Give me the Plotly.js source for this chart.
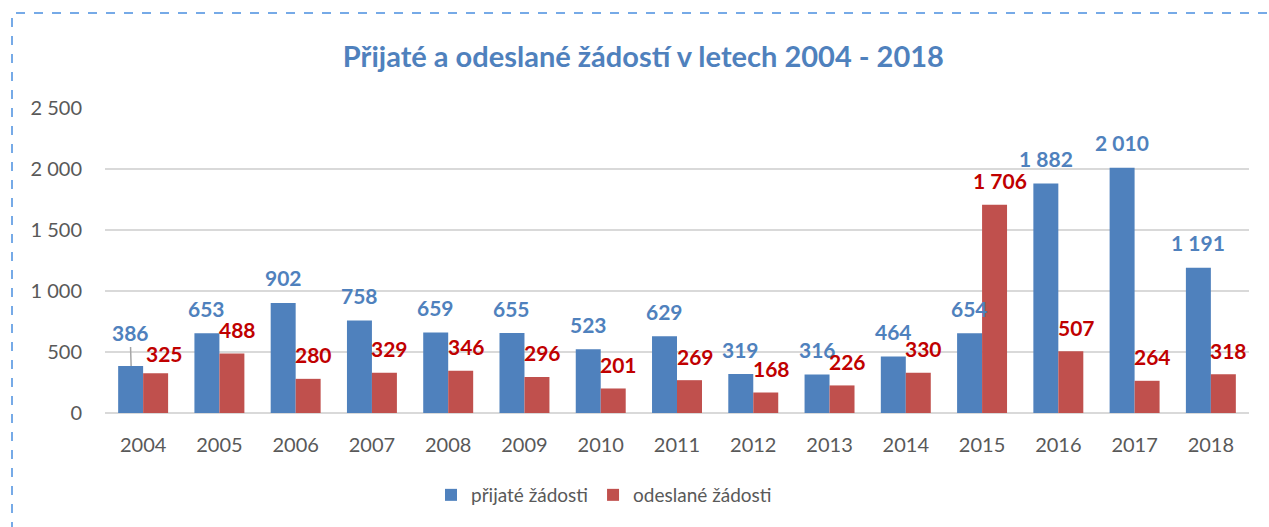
<!DOCTYPE html>
<html><head><meta charset="utf-8">
<script src="https://cdn.plot.ly/plotly-3.0.1.min.js"></script>
<style>html,body{margin:0;padding:0;background:#fff}#chart{width:1269px;height:527px}</style>
</head><body><div id="chart"></div>
<script>
const years = ['2004','2005','2006','2007','2008','2009','2010','2011','2012','2013','2014','2015','2016','2017','2018'];
const prijate = [386,653,902,758,659,655,523,629,319,316,464,654,1882,2010,1191];
const odeslane = [325,488,280,329,346,296,201,269,168,226,330,1706,507,264,318];
const seriesNames = ['přijaté žádosti','odeslané žádosti'];
const yTicks = [0,500,1000,1500,2000,2500];

const FONT = 'Lato, "Open Sans", sans-serif';
const BLUE = '#4F81BD', RED = '#C0504D';
function fmt(v){ return String(v).replace(/\B(?=(\d{3})+(?!\d))/g,' '); }

const traces = [
  {type:'bar', x:years, y:prijate, name:seriesNames[0], marker:{color:BLUE}, hoverinfo:'none'},
  {type:'bar', x:years, y:odeslane, name:seriesNames[1], marker:{color:RED}, hoverinfo:'none'}
];

const LBL = 21;
const ann = [];
years.forEach((yr,i)=>{
  if (i===0) {
    ann.push({x:i, y:prijate[i], xref:'x', yref:'y', text:fmt(prijate[i]), showarrow:true, arrowhead:0,
      arrowcolor:'#A6A6A6', arrowwidth:1.5, ax:-1, ay:-33, xshift:-12, standoff:0,
      font:{family:FONT, size:LBL, color:BLUE, weight:'bold'}});
  } else {
    ann.push({x:i, y:prijate[i], xref:'x', yref:'y', text:fmt(prijate[i]), showarrow:false,
      xshift:-12.5, yshift:25, yanchor:'middle', font:{family:FONT, size:LBL, color:BLUE, weight:'bold'}});
  }
  ann.push({x:i, y:odeslane[i], xref:'x', yref:'y', text:fmt(odeslane[i]), showarrow:false,
    xshift:(i===0?21:18), yshift:(i===0?20:24), yanchor:'middle', font:{family:FONT, size:LBL, color:'#C00000', weight:'bold'}});
});

const layout = {
  width:1269, height:527,
  margin:{l:105, r:20, t:108, b:114},
  paper_bgcolor:'#fff', plot_bgcolor:'#fff',
  separators:', ',
  font:{family:FONT, color:'#595959', size:19},
  title:{text:'Přijaté a odeslané žádostí v letech 2004 - 2018', font:{family:FONT, size:29, color:BLUE, weight:'bold'},
    x:0.507, xref:'container', y:1-57/527, yref:'container', yanchor:'middle', xanchor:'center'},
  barmode:'group', bargap:0.345, bargroupgap:0,
  xaxis:{type:'category', range:[-0.5,14.5], autorange:false, showgrid:false, zeroline:false, showline:false, ticks:'', ticklabelstandoff:18,
    tickfont:{family:FONT, size:20, color:'#595959'}},
  yaxis:{range:[0,2500], autorange:false, tickvals:yTicks, ticktext:yTicks.map(fmt), showgrid:true, gridcolor:'#D9D9D9', gridwidth:2,
    zeroline:true, zerolinecolor:'#D9D9D9', zerolinewidth:2, showline:false, ticks:'', ticklabelstandoff:22,
    tickfont:{family:FONT, size:20, color:'#595959'}},
  showlegend:true,
  legend:{orientation:'h', x:(604-105)/1144, xanchor:'center', y:-(495-413)/305, yanchor:'middle',
    font:{family:FONT, size:19, color:'#595959'}, itemwidth:30},
  annotations:ann,
  shapes:[{type:'rect', xref:'paper', yref:'paper', x0:(12-105)/1144, x1:(1300-105)/1144,
    y0:-(600-413)/305, y1:(413-13)/305, line:{color:'#4A8FE0', width:1.5, dash:'dash'}, fillcolor:'rgba(0,0,0,0)'}]
};
Plotly.newPlot('chart', traces, layout, {displayModeBar:false, staticPlot:true});
</script></body></html>
